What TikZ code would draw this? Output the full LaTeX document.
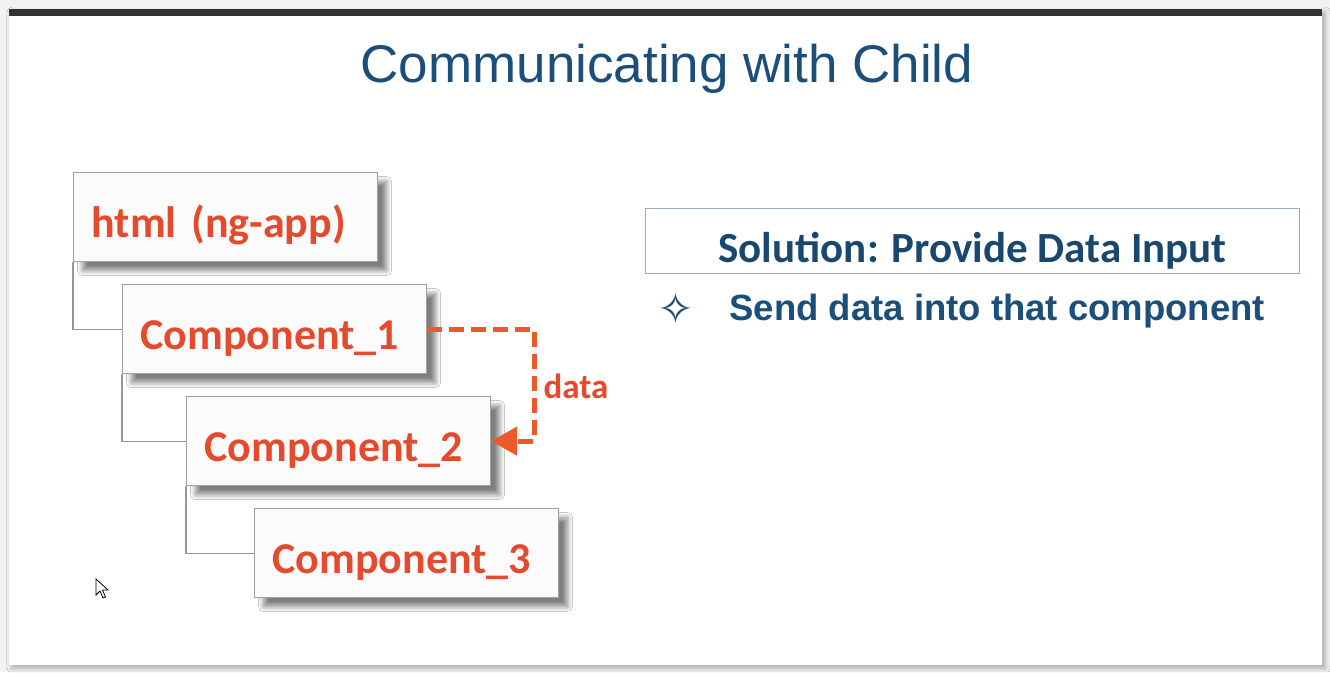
\documentclass[tikz,border=0pt]{standalone}
\usepackage{fontspec}
\setmainfont{Liberation Sans}
\newfontfamily\calib{Carlito}
\newfontfamily\djv{DejaVu Sans}
\usetikzlibrary{shadows.blur,arrows.meta}
\definecolor{slideblue}{RGB}{27,79,122}
\definecolor{soltext}{RGB}{24,72,112}
\definecolor{compred}{RGB}{228,74,46}
\definecolor{arroworange}{RGB}{236,88,40}
\definecolor{boxgray}{RGB}{160,160,160}
\definecolor{boxfill}{RGB}{251,251,251}
\definecolor{solborder}{RGB}{150,172,205}
\definecolor{outerbg}{RGB}{242,242,242}
\definecolor{darkbar}{RGB}{50,50,50}
\definecolor{linkgray}{RGB}{150,150,150}
\begin{document}
\begin{tikzpicture}[x=1pt,y=-1pt,
  compbox/.style={draw=boxgray, line width=1.2pt, fill=boxfill, minimum height=89pt,
    text width=268pt, inner xsep=18pt, inner ysep=0pt, align=left, anchor=north west,
    text height=45pt, text depth=5pt,
    font=\calib\bfseries\fontsize{44}{50}\selectfont, text=compred,
    blur shadow={shadow xshift=9pt, shadow yshift=-9pt, shadow blur radius=5pt, shadow blur steps=12, shadow opacity=50}},
  treelink/.style={draw=linkgray, line width=1.2pt},
  datalink/.style={draw=arroworange, line width=5pt, dash pattern=on 15pt off 7pt,
    -{Triangle[length=26pt,width=28pt]}}
  ]
\useasboundingbox (0,0) rectangle (1330,672);
\fill[outerbg] (0,0) rectangle (1330,672);
\path[fill=white, blur shadow={shadow xshift=3pt, shadow yshift=-3pt, shadow blur radius=5pt, shadow opacity=30}] (9,9) rectangle (1322,665);
\fill[darkbar] (9,9) rectangle (1322,16);

\node[font=\fontsize{53}{60}\selectfont, text=slideblue, anchor=base] (title) at (667,82) {Communicating with Child};

\node[compbox] (html) at (73,172) {html (ng-app)};
\node[compbox] (c1) at (122,284) {Component\_1};
\node[compbox] (c2) at (186,396) {Component\_2};
\node[compbox] (c3) at (254,508) {Component\_3};

\draw[treelink] (html.south west) |- (c1.west);
\draw[treelink] (c1.south west) |- (c2.west);
\draw[treelink] (c2.south west) |- (c3.west);

\draw[datalink] (c1.east) -- ++(107,0) |- (c2.east);
\node[font=\calib\bfseries\fontsize{35}{40}\selectfont, text=compred, anchor=west] (data) at (540,386) {data};

\node[draw=solborder, line width=1.2pt, minimum width=654pt, minimum height=65pt, inner sep=0pt,
  text height=46.5pt, text depth=3.5pt,
  anchor=north west, font=\calib\bfseries\fontsize{43}{48}\selectfont, text=soltext] (sol) at (645,208) {Solution: Provide Data Input};

\node[font=\djv\fontsize{44}{48}\selectfont, text=slideblue] (star) at (676,308) {✧};
\node[font=\bfseries\fontsize{36.5}{42}\selectfont, text=slideblue, anchor=base west] (send) at (726,320) {Send data into that component};

\draw[fill=white, line width=0.8pt, line join=miter] (96,579) -- ++(0,16) -- ++(4,-4) -- ++(3,7) -- ++(2.5,-1) -- ++(-3,-7) -- ++(5.5,0) -- cycle;
\end{tikzpicture}
\end{document}
